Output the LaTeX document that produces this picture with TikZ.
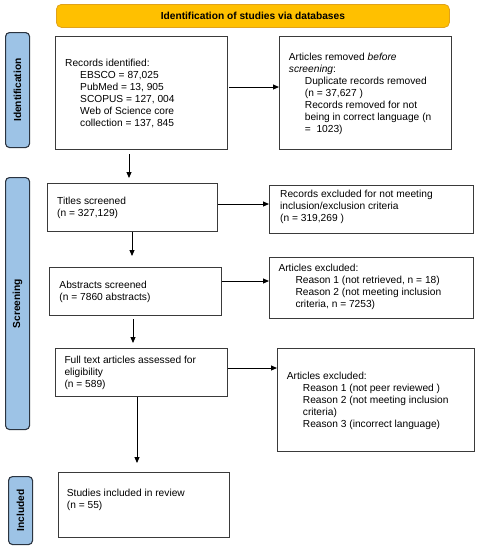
\documentclass[tikz,border=0pt]{standalone}
\usepackage{fontspec}
\setmainfont{Liberation Sans}
\usetikzlibrary{arrows.meta,calc}
\definecolor{bannerfill}{HTML}{FFC000}
\definecolor{bannerdraw}{HTML}{E0A21A}
\definecolor{sidefill}{HTML}{9DC3E6}
\definecolor{sidedraw}{HTML}{2B3440}
\definecolor{boxdraw}{HTML}{3A3A3A}
\begin{document}
\begin{tikzpicture}[x=1pt,y=-1pt,
  every node/.style={font=\fontsize{10.2}{12}\selectfont},
  flowbox/.style={draw=boxdraw,line width=1.3pt,fill=white,inner sep=0pt,anchor=north west},
  txt/.style={inner sep=0pt,anchor=north west,align=left},
  sidebox/.style={draw=sidedraw,line width=1.1pt,fill=sidefill,rounded corners=4pt,inner sep=0pt,anchor=north west},
  sidelabel/.style={rotate=90,font=\fontsize{10.2}{12}\selectfont\bfseries},
  arr/.style={line width=1pt,-{Triangle[length=6pt,width=5pt]}}]
\useasboundingbox (0,0) rectangle (479,550);

% banner
\node[draw=bannerdraw,line width=0.8pt,fill=bannerfill,rounded corners=5pt,inner sep=0pt,anchor=north west,minimum width=393pt,minimum height=23pt] (banner) at (56,4) {};
\node[font=\fontsize{10.2}{12}\selectfont\bfseries] (bannertxt) at (banner.center) {Identification of studies via databases};

% side boxes
\node[sidebox,minimum width=24pt,minimum height=115pt] (sid) at (5,32) {};
\node[sidelabel] (sidt) at (sid.center) {Identification};
\node[sidebox,minimum width=24pt,minimum height=252pt] (sscr) at (5,177) {};
\node[sidelabel] (sscrt) at (sscr.center) {Screening};
\node[sidebox,minimum width=24pt,minimum height=68pt] (sinc) at (8,476) {};
\node[sidelabel] (sinct) at (sinc.center) {Included};

% boxes
\node[flowbox,minimum width=172pt,minimum height=113pt] (rec) at (55,36) {};
\node[txt] (rect) at (65,57.6) {\strut Records identified:\\
\hspace*{15pt}EBSCO = 87,025\\
\hspace*{15pt}PubMed = 13, 905\\
\hspace*{15pt}SCOPUS = 127, 004\\
\hspace*{15pt}Web of Science core\\
\hspace*{15pt}collection = 137, 845};

\node[flowbox,minimum width=172pt,minimum height=113pt] (rem) at (279,36) {};
\node[txt] (remt) at (288.7,52) {\strut Articles removed \emph{before}\\
\emph{screening}:\\
\hspace*{16pt}Duplicate records removed\\
\hspace*{16pt}(n = 37,627 )\\
\hspace*{16pt}Records removed for not\\
\hspace*{16pt}being in correct language (n\\
\hspace*{16pt}=\ \ 1023)};

\node[flowbox,minimum width=170pt,minimum height=48pt] (tit) at (47,183) {};
\node[txt] (titt) at (57,196) {\strut Titles screened\\(n = 327,129)};

\node[flowbox,minimum width=204pt,minimum height=48pt] (rex) at (269,185) {};
\node[txt] (rext) at (280,189.3) {\strut Records excluded for not meeting\\inclusion/exclusion criteria\\(n = 319,269 )};

\node[flowbox,minimum width=172pt,minimum height=48pt] (abs) at (49,267) {};
\node[txt] (abst) at (59.3,280.3) {\strut Abstracts screened\\(n = 7860 abstracts)};

\node[flowbox,minimum width=204pt,minimum height=61pt] (ex1) at (269,257) {};
\node[txt] (ex1t) at (278.3,263) {\strut Articles excluded:\\
\hspace*{17pt}Reason 1 (not retrieved, n = 18)\\
\hspace*{17pt}Reason 2 (not meeting inclusion\\
\hspace*{17pt}criteria, n = 7253)};

\node[flowbox,minimum width=172pt,minimum height=48pt] (ful) at (55,348) {};
\node[txt] (fult) at (64.3,355.3) {\strut Full text articles assessed for\\eligibility\\(n = 589)};

\node[flowbox,minimum width=197pt,minimum height=103pt] (ex2) at (277,348) {};
\node[txt] (ex2t) at (286.7,371) {\strut Articles excluded:\\
\hspace*{16pt}Reason 1 (not peer reviewed )\\
\hspace*{16pt}Reason 2 (not meeting inclusion\\
\hspace*{16pt}criteria)\\
\hspace*{16pt}Reason 3 (incorrect language)};

\node[flowbox,minimum width=171pt,minimum height=65pt] (stu) at (58,472) {};
\node[txt] (stut) at (66.7,488) {\strut Studies included in review\\(n = 55)};

% arrows
\coordinate (ya) at (0,87);
\coordinate (yb) at (0,204);
\coordinate (yc) at (0,281);
\coordinate (yd) at (0,368);
\coordinate (xa) at (129,0);
\coordinate (xb) at (132,0);
\coordinate (xc) at (133,0);
\coordinate (xd) at (137,0);

\draw[arr] ([xshift=1pt]rec.east |- ya) -- (rem.west |- ya);
\draw[arr] ([yshift=-4pt]rec.south -| xa) -- ([yshift=5pt]tit.north -| xa);
\draw[arr] (tit.east |- yb) -- (rex.west |- yb);
\draw[arr] (tit.south -| xb) -- ([yshift=11pt]abs.north -| xb);
\draw[arr] (abs.east |- yc) -- (ex1.west |- yc);
\draw[arr] ([yshift=-3pt]abs.south -| xc) -- ([yshift=5pt]ful.north -| xc);
\draw[arr] (ful.east |- yd) -- (ex2.west |- yd);
\draw[arr] (ful.south -| xd) -- ([yshift=9pt]stu.north -| xd);
\end{tikzpicture}
\end{document}
